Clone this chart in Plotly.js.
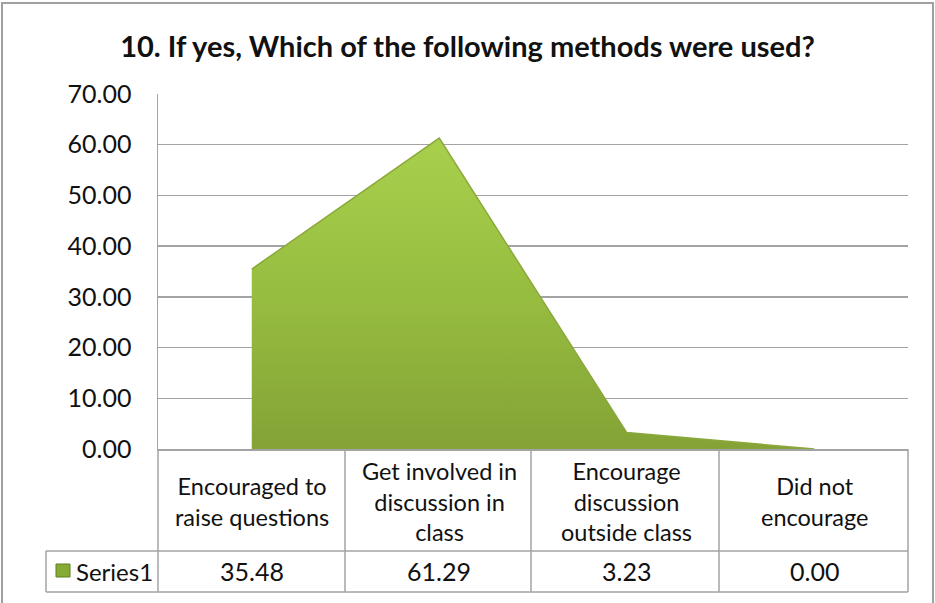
<!DOCTYPE html>
<html>
<head>
<meta charset="utf-8">
<script src="https://cdn.plot.ly/plotly-3.0.1.min.js"></script>
<style>html,body{margin:0;padding:0;background:#fff;}#chart{width:935px;height:603px;}</style>
</head>
<body>
<div id="chart"></div>
<script>
// ---- data ----
const categories = [
  "Encouraged to<br>raise questions",
  "Get involved in<br>discussion in<br>class",
  "Encourage<br>discussion<br>outside class",
  "Did not<br>encourage"
];
const seriesName = "Series1";
const values = [35.48, 61.29, 3.23, 0.00];
const yTicks = [0, 10, 20, 30, 40, 50, 60, 70];
const chartTitle = "10. If yes, Which of the following methods were used?";

// ---- layout geometry (pixels) ----
const W = 935, H = 603;
const L = 158, R = 908, T = 94, B = 449;
const pw = R - L, ph = B - T;
const px = x => (x - L) / pw;         // pixel x -> paper x
const py = y => (B - y) / ph;         // pixel y -> paper y
const FONT = "Lato, 'Open Sans', sans-serif";
const GRID = "#a3a3a3";
const TXT = "#111";

const xIdx = categories.map((c, i) => i);

const trace = {
  type: "scatter",
  x: xIdx,
  y: values,
  name: seriesName,
  mode: "lines",
  fill: "tozeroy",
  line: {color: "#8ba83c", width: 1.5, shape: "linear"},
  fillcolor: "#98bf40",
  fillgradient: {
    type: "vertical",
    colorscale: [[0, "#84a236"], [0.5, "#97bd40"], [1, "#a8d04c"]]
  },
  hoverinfo: "skip"
};

const shapes = [];
const line = {color: GRID, width: 1.5};
// outer chart border
shapes.push({type: "rect", xref: "paper", yref: "paper",
  x0: px(2), x1: px(933), y0: py(3), y1: py(620), line: {color: "#a0a0a0", width: 2}, layer: "below"});
// data table grid
const colEdges = [L, 345, 531, 719, R];
colEdges.forEach(x => shapes.push({type: "line", xref: "paper", yref: "paper",
  x0: px(x), x1: px(x), y0: py(449), y1: py(592), line}));
shapes.push({type: "line", xref: "paper", yref: "paper", x0: px(46), x1: px(46), y0: py(551), y1: py(592), line});
shapes.push({type: "line", xref: "paper", yref: "paper", x0: px(46), x1: 1, y0: py(551), y1: py(551), line});
shapes.push({type: "line", xref: "paper", yref: "paper", x0: px(46), x1: 1, y0: py(592), y1: py(592), line});
// legend key square
shapes.push({type: "rect", xref: "paper", yref: "paper",
  x0: px(56), x1: px(70), y0: py(577), y1: py(564),
  fillcolor: "#86ab34", line: {color: "#5f7f22", width: 1}});

const annotations = [];
categories.forEach((c, i) => {
  annotations.push({xref: "x", yref: "paper", x: i, y: py(501), text: c,
    showarrow: false, xanchor: "center", yanchor: "middle", align: "center",
    font: {family: FONT, size: 23.5, color: TXT}});
  annotations.push({xref: "x", yref: "paper", x: i, y: py(571), text: values[i].toFixed(2),
    showarrow: false, xanchor: "center", yanchor: "middle",
    font: {family: FONT, size: 25, color: TXT}});
});
annotations.push({xref: "paper", yref: "paper", x: px(74), y: py(571), text: seriesName,
  showarrow: false, xanchor: "left", yanchor: "middle",
  font: {family: FONT, size: 24, color: TXT}});

const layout = {
  width: W, height: H,
  margin: {l: L, r: W - R, t: T, b: H - B, pad: 0},
  paper_bgcolor: "#fff", plot_bgcolor: "#fff",
  showlegend: false,
  title: {text: "<b>" + chartTitle + "</b>", x: 0.5, xref: "container", y: 1 - 47 / H,
    yref: "container", xanchor: "center", yanchor: "middle",
    font: {family: FONT, size: 29, color: TXT}},
  xaxis: {type: "linear", range: [-0.5, 3.5], showgrid: false, zeroline: false,
    showticklabels: false, ticks: "", showline: true, linecolor: GRID, linewidth: 1.5, fixedrange: true},
  yaxis: {range: [0, 70], tickvals: yTicks, tickformat: ".2f", showgrid: true, gridcolor: GRID, gridwidth: 1.5,
    zeroline: false, showline: true, linecolor: GRID, linewidth: 1.5, ticks: "",
    ticklabelstandoff: 20, tickfont: {family: FONT, size: 25, color: TXT}, fixedrange: true},
  shapes, annotations
};

Plotly.newPlot("chart", [trace], layout, {displayModeBar: false, staticPlot: true});
</script>
</body>
</html>
